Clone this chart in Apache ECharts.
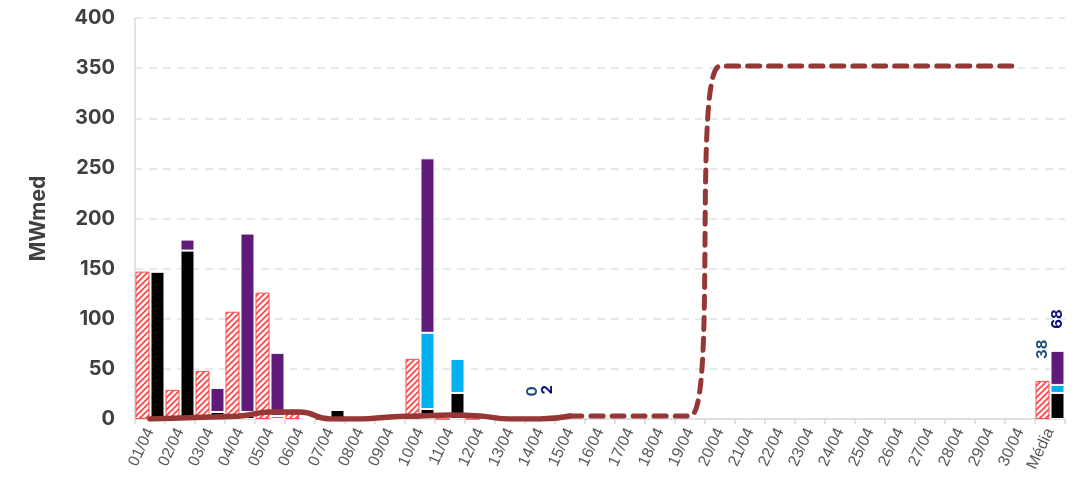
<!DOCTYPE html>
<html>
<head>
<meta charset="utf-8">
<script src="https://cdn.jsdelivr.net/npm/echarts@6/dist/echarts.min.js"></script>
<style>html,body{margin:0;padding:0;background:#fff}#c{width:1076px;height:492px}</style>
</head>
<body>
<div id="c"></div>
<script>
const categories = ['01/04','02/04','03/04','04/04','05/04','06/04','07/04','08/04','09/04','10/04','11/04','12/04','13/04','14/04','15/04','16/04','17/04','18/04','19/04','20/04','21/04','22/04','23/04','24/04','25/04','26/04','27/04','28/04','29/04','30/04','Média'];
const hatchedValues = [147,29,48,107,126,5,0,0,0,60,0,0,0,0,null,null,null,null,null,null,null,null,null,null,null,null,null,null,null,null,38];
const blackValues   = [147,168,7,7,0,0,9,0,0,10,26,0,0,2,null,null,null,null,null,null,null,null,null,null,null,null,null,null,null,null,26];
const cyanValues    = [0,0,0,0,3,0,0,0,0,76,34,0,0,0,null,null,null,null,null,null,null,null,null,null,null,null,null,null,null,null,8];
const purpleValues  = [0,11,24,178,63,0,0,0,0,174,0,0,0,0,null,null,null,null,null,null,null,null,null,null,null,null,null,null,null,null,34];
const lineSolid     = [0,1,2,3,7,7,0,0,2,3,4,3,0,0,3,null,null,null,null,null,null,null,null,null,null,null,null,null,null,null,null];
const lineDashed    = [null,null,null,null,null,null,null,null,null,null,null,null,null,null,3,3,3,3,3,352,352,352,352,352,352,352,352,352,352,352,null];
const labeledCategories = ['14/04','Média'];
const yTicks = [0,50,100,150,200,250,300,350,400];

// hatch pattern
const pc = document.createElement('canvas');
pc.width = 6; pc.height = 6;
const g = pc.getContext('2d');
g.fillStyle = '#ffffff'; g.fillRect(0,0,6,6);
g.strokeStyle = '#FF3F3F'; g.lineWidth = 1.6;
g.beginPath();
g.moveTo(-1,7); g.lineTo(7,-1);
g.moveTo(-4,4); g.lineTo(4,-4);
g.moveTo(2,10); g.lineTo(10,2);
g.stroke();

const isLabeled = i => labeledCategories.includes(categories[i]);
const total = i => (blackValues[i]||0) + (cyanValues[i]||0) + (purpleValues[i]||0);
const labelBase = {show:true, position:'top', rotate:90, align:'left', verticalAlign:'middle', distance:22, fontWeight:'bold', fontSize:15, fontFamily:'Inter'};

const hatchedData = hatchedValues.map((v,i)=> isLabeled(i) ? {value:v, label:Object.assign({}, labelBase, {color:'#1F4E79'})} : v);
const purpleData = purpleValues.map((v,i)=> isLabeled(i) ? {value:v, label:Object.assign({}, labelBase, {color:'#0A0A80', formatter: ()=> String(total(i))})} : v);

const chart = echarts.init(document.getElementById('c'));
chart.setOption({
  animation:false,
  grid:{left:135, right:11, top:18, bottom:73},
  xAxis:{
    type:'category', data:categories,
    axisLine:{lineStyle:{color:'#D9D9D9', width:1.5}},
    axisTick:{show:true, length:5, lineStyle:{color:'#D9D9D9', width:1.5}},
    axisLabel:{rotate:65, fontSize:16, color:'#595959', margin:10, fontFamily:'Liberation Sans', interval:0}
  },
  yAxis:{
    type:'value', min:yTicks[0], max:yTicks[yTicks.length-1], interval:50,
    name:'MWmed', nameLocation:'middle', nameGap:86, nameRotate:90,
    nameTextStyle:{fontSize:21, fontWeight:'bold', color:'#404040', fontFamily:'Inter'},
    axisLine:{show:true, lineStyle:{color:'#D9D9D9', width:1.5}},
    axisTick:{show:false},
    axisLabel:{fontSize:20, fontWeight:'bold', color:'#404040', margin:20, fontFamily:'Inter'},
    splitLine:{lineStyle:{color:'#DCE3E8', type:[8,6], width:1.5}}
  },
  series:[
    {name:'hatched', type:'bar', data:hatchedData, barWidth:14, barGap:'7%',
     itemStyle:{color:{image:pc, repeat:'repeat'}, borderColor:'#FF4B4B', borderWidth:1}},
    {name:'black', type:'bar', stack:'s', data:blackValues, barWidth:14,
     itemStyle:{color:'#000000', borderColor:'#ffffff', borderWidth:1}},
    {name:'cyan', type:'bar', stack:'s', data:cyanValues, barWidth:14,
     itemStyle:{color:'#00B0F0', borderColor:'#ffffff', borderWidth:1}},
    {name:'purple', type:'bar', stack:'s', data:purpleData, barWidth:14,
     itemStyle:{color:'#5F1A7A', borderColor:'#ffffff', borderWidth:1}},
    {name:'lineSolid', type:'line', data:lineSolid, smooth:0.5, symbol:'none', z:5,
     lineStyle:{color:'#953735', width:5.5, cap:'round', join:'round'}},
    {name:'lineDashed', type:'line', data:lineDashed, smooth:0.5, symbol:'none', z:5,
     lineStyle:{color:'#953735', width:5, type:[12,9], cap:'round', join:'round'}}
  ]
});
</script>
</body>
</html>
